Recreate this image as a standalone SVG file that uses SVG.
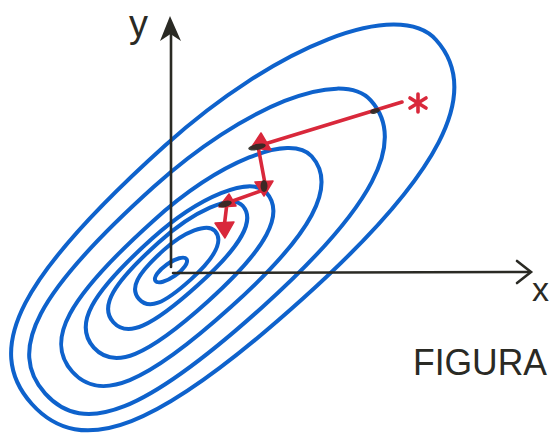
<svg xmlns="http://www.w3.org/2000/svg" width="557" height="439" viewBox="0 0 557 439">
<style>
.c{fill:none;stroke:#0e62cc;stroke-width:4;stroke-linejoin:round}
.ax{fill:none;stroke:#2a2a24;stroke-width:2.6;stroke-linecap:round}
.r{fill:none;stroke:#d9283b;stroke-width:3.6;stroke-linecap:round;stroke-linejoin:round}
.rh{fill:#d9283b;stroke:#d9283b;stroke-width:1.5;stroke-linejoin:round}
.ink{fill:#2a2a24}
.t{fill:#2a2a24;font-family:"Liberation Sans","DejaVu Sans",sans-serif}
</style>
<rect width="557" height="439" fill="#fff"/>
<g id="contours">
<g id="c0" transform="translate(234,222) rotate(-42)"><path class="c" d="M272,0 C272,70 185,103 0,103 C-195.8,103 -272,74.2 -272,0 C-272,-74.2 -195.8,-103 0,-103 C149.6,-103 272,-56.7 272,0 Z"/></g>
<g id="c1" transform="translate(208,247) rotate(-42)"><path class="c" d="M219,0 C219,55.1 148.9,81 0,81 C-157.7,81 -219,58.3 -219,0 C-219,-58.3 -157.7,-81 0,-81 C120.5,-81 219,-44.6 219,0 Z"/></g>
<g id="c2" transform="translate(192,264) rotate(-42)"><path class="c" d="M161,0 C161,39.4 109.5,58 0,58 C-115.9,58 -161,41.8 -161,0 C-161,-41.8 -115.9,-58 0,-58 C88.6,-58 161,-31.9 161,0 Z"/></g>
<g id="c3" transform="translate(180,270) rotate(-42)"><path class="c" d="M116,0 C116,28.6 78.9,42 0,42 C-83.5,42 -116,30.2 -116,0 C-116,-30.2 -83.5,-42 0,-42 C63.8,-42 116,-23.1 116,0 Z"/></g>
<g id="c4" transform="translate(178,264) rotate(-42)"><path class="c" d="M87,0 C87,19.7 59.2,29 0,29 C-62.6,29 -87,20.9 -87,0 C-87,-20.9 -62.6,-29 0,-29 C47.9,-29 87,-16 87,0 Z"/></g>
<g id="c5" transform="translate(177,265) rotate(-42)"><path class="c" d="M51,0 C51,13.6 34.7,20 0,20 C-36.7,20 -51,14.4 -51,0 C-51,-14.4 -36.7,-20 0,-20 C28,-20 51,-11 51,0 Z"/></g>
<g id="c6"><ellipse class="c" cx="171" cy="270" rx="19" ry="7" transform="rotate(-35 171 270)"/></g>
</g>
<g id="axes">
<line class="ax" x1="171" y1="267" x2="171" y2="24"/>
<path class="ink" d="M170,16 L181,41 L170.5,34 L160,41 Z"/>
<line class="ax" x1="173" y1="273" x2="529" y2="272"/>
<polyline class="ax" stroke-width="3.4" points="517,261 531,272 517,283"/>
</g>
<g id="path">
<polyline class="r" points="402,102 258,146 266,189 227,203 224,228"/>
<polygon class="rh" points="261,133 251,148 271,150"/>
<polygon class="rh" points="264,196 255,182 273,181"/>
<polygon class="rh" points="229,194 219,207 236,206"/>
<polygon class="rh" points="225,238 215,223 234,222"/>
<g class="ink" opacity="0.9">
<ellipse cx="375" cy="111" rx="5" ry="2.5" transform="rotate(-17 375 111)"/>
<ellipse cx="257" cy="147" rx="9" ry="3" transform="rotate(-12 257 147)"/>
<ellipse cx="264" cy="186" rx="3.5" ry="6"/>
<ellipse cx="225" cy="204" rx="7" ry="3" transform="rotate(-15 225 204)"/>
</g>
</g>
<g id="star" class="r" stroke-width="4">
<line x1="418" y1="94" x2="418" y2="112"/>
<line x1="410" y1="98" x2="426" y2="108"/>
<line x1="410" y1="108" x2="426" y2="98"/>
</g>
<g id="labels">
<text class="t" x="129" y="37" font-size="38">y</text>
<text class="t" x="532" y="301" font-size="34">x</text>
<text class="t" x="413" y="375" font-size="36" textLength="134" lengthAdjust="spacingAndGlyphs">FIGURA</text>
</g>
</svg>
